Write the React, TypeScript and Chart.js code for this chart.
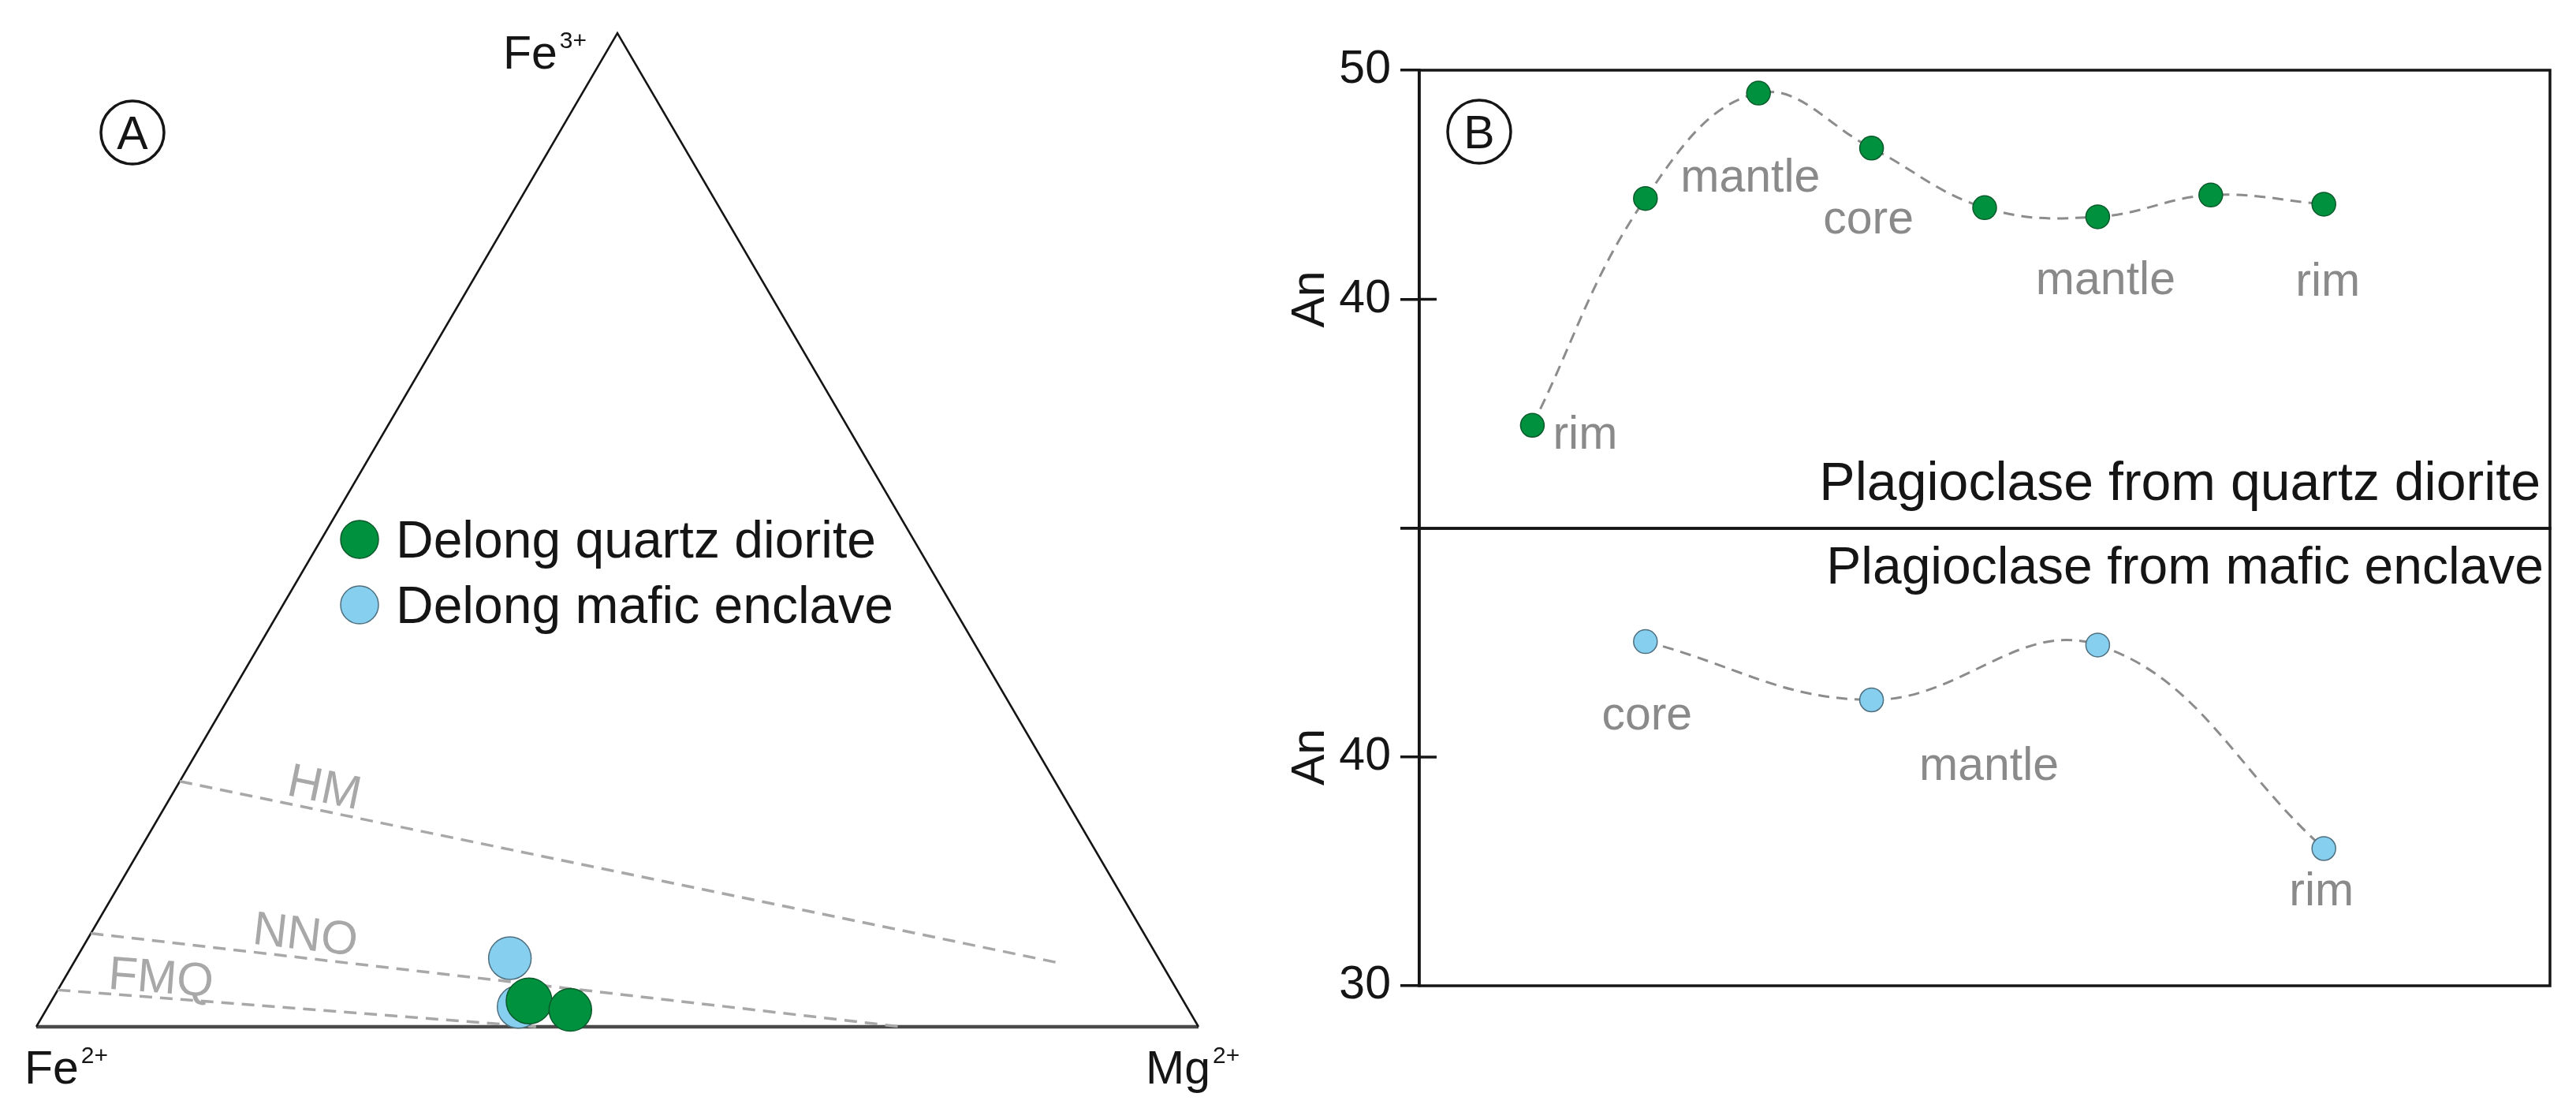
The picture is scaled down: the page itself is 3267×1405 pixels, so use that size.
import React, { useEffect, useRef } from 'react';
import { Chart, registerables } from 'chart.js';

Chart.register(...registerables);

const FONT = '"Liberation Sans", Arial, Helvetica, sans-serif';

// ---------------- Panel A data: ternary Fe2+ - Fe3+ - Mg2+ ----------------
const vertexElements = ['Fe', 'Fe', 'Mg'];
const vertexCharges = ['2+', '3+', '2+'];
const seriesNames = ['Delong quartz diorite', 'Delong mafic enclave'];
const dioriteFe2 = [0.563, 0.532];
const dioriteFe3 = [0.026, 0.017];
const dioriteMg = [0.411, 0.451];
const enclaveFe2 = [0.558, 0.575];
const enclaveFe3 = [0.069, 0.02];
const enclaveMg = [0.373, 0.405];
const bufferNames = ['HM', 'NNO', 'FMQ'];
const bufferStartFe2 = [0.753, 0.906, 0.963];
const bufferStartFe3 = [0.247, 0.094, 0.037];
const bufferStartMg = [0, 0, 0];
const bufferEndFe2 = [0.087, 0.256, 0.57];
const bufferEndFe3 = [0.064, 0, 0];
const bufferEndMg = [0.849, 0.744, 0.43];

// ---------------- Panel B data: An profiles ----------------
const quartzDioriteZone = [1, 2, 3, 4, 5, 6, 7, 8];
const quartzDioriteAn = [34.5, 44.4, 49.0, 46.6, 44.0, 43.6, 44.55, 44.15];
const quartzDioriteLabels = ['rim', 'mantle', '', 'core', '', 'mantle', '', 'rim'];
const maficEnclaveZone = [2, 4, 6, 8];
const maficEnclaveAn = [45.05, 42.5, 44.9, 36.0];
const maficEnclaveLabels = ['core', 'mantle', '', 'rim'];
const panelTitles = ['Plagioclase from quartz diorite', 'Plagioclase from mafic enclave'];
const anTickValues = [30, 40, 50];
const anAxisTitle = 'An';
const panelLetters = ['A', 'B'];

// ---------------- styles / layout ----------------
const GREEN = '#00913f';
const GREEN_EDGE = '#0b5a2b';
const BLUE = '#86cfee';
const BLUE_EDGE = '#4f6f7f';
const INK = '#151515';
const LABEL_GRAY = '#8a8a8a';
const BUFFER_GRAY = '#a8a8a8';

const A_LAYOUT = {
  canvasW: 1600,
  canvasH: 1405,
  padding: { left: 46, right: 80, top: 42, bottom: 103 },
  vertexOffsets: [[-15, 72], [-145, 45], [-67, 72]],
  bufferLabelT: [0.159, 0.2615, 0.2127],
  bufferLabelLift: [29, 29, 25],
  legendMarkerX: 456,
  legendY: [684, 767],
  legendTextX: 502,
  legendR: 24,
  letter: { x: 168, y: 168, r: 40 },
};

const B_TOP = {
  top: 0,
  height: 760,
  padding: { left: 0, right: 33, top: 89, bottom: 90 },
  hidden: [30],
  labelOffsets: [[67, 30], [133, -9], null, [-4, 108], null, [10, 98], null, [5, 116]],
  titleFont: 68,
  titleRight: 12,
};
const B_BOT = {
  top: 600,
  height: 805,
  padding: { left: 0, right: 33, top: 70, bottom: 155 },
  hidden: [50],
  labelOffsets: [[2, 111], [149, 101], null, [-3, 72]],
  titleFont: 66,
  titleRight: 8,
};

function toXY(fe2: number, fe3: number, mg: number) {
  const s = fe2 + fe3 + mg;
  return { x: (mg + fe3 / 2) / s, y: fe3 / s };
}

function drawLetterCircle(ctx: CanvasRenderingContext2D, letter: string, cx: number, cy: number, r: number) {
  ctx.save();
  ctx.beginPath();
  ctx.arc(cx, cy, r, 0, Math.PI * 2);
  ctx.lineWidth = 3.5;
  ctx.strokeStyle = INK;
  ctx.stroke();
  ctx.font = `59px ${FONT}`;
  ctx.fillStyle = INK;
  ctx.textAlign = 'center';
  ctx.textBaseline = 'alphabetic';
  ctx.fillText(letter, cx, cy + 21);
  ctx.restore();
}

const ternaryDecor = {
  id: 'ternaryDecor',
  afterDraw(chart: any) {
    const { ctx } = chart;
    const xs = chart.scales.x;
    const ys = chart.scales.y;
    const px = (p: { x: number; y: number }) => ({ x: xs.getPixelForValue(p.x), y: ys.getPixelForValue(p.y) });
    ctx.save();
    // vertex labels with superscript charges
    const verts = [toXY(1, 0, 0), toXY(0, 1, 0), toXY(0, 0, 1)].map(px);
    vertexElements.forEach((el, i) => {
      const v = verts[i];
      const o = A_LAYOUT.vertexOffsets[i];
      const bx = v.x + o[0];
      const by = v.y + o[1];
      ctx.fillStyle = INK;
      ctx.textAlign = 'left';
      ctx.textBaseline = 'alphabetic';
      ctx.font = `59px ${FONT}`;
      ctx.fillText(el, bx, by);
      const w = ctx.measureText(el).width;
      ctx.font = `30px ${FONT}`;
      ctx.fillText(vertexCharges[i], bx + w + 3, by - 26);
    });
    // buffer labels
    bufferNames.forEach((name, i) => {
      const p1 = px(toXY(bufferStartFe2[i], bufferStartFe3[i], bufferStartMg[i]));
      const p2 = px(toXY(bufferEndFe2[i], bufferEndFe3[i], bufferEndMg[i]));
      const ang = Math.atan2(p2.y - p1.y, p2.x - p1.x);
      const t = A_LAYOUT.bufferLabelT[i];
      const lift = A_LAYOUT.bufferLabelLift[i];
      const cx = p1.x + (p2.x - p1.x) * t + Math.sin(ang) * lift;
      const cy = p1.y + (p2.y - p1.y) * t - Math.cos(ang) * lift;
      ctx.save();
      ctx.translate(cx, cy);
      ctx.rotate(ang);
      ctx.font = `60px ${FONT}`;
      ctx.fillStyle = BUFFER_GRAY;
      ctx.textAlign = 'center';
      ctx.textBaseline = 'middle';
      ctx.fillText(name, 0, 2);
      ctx.restore();
    });
    // legend
    const colors = [[GREEN, GREEN_EDGE], [BLUE, BLUE_EDGE]];
    seriesNames.forEach((name, i) => {
      const y = A_LAYOUT.legendY[i];
      ctx.beginPath();
      ctx.arc(A_LAYOUT.legendMarkerX, y, A_LAYOUT.legendR, 0, Math.PI * 2);
      ctx.fillStyle = colors[i][0];
      ctx.fill();
      ctx.lineWidth = 1.5;
      ctx.strokeStyle = colors[i][1];
      ctx.stroke();
      ctx.font = `66px ${FONT}`;
      ctx.fillStyle = INK;
      ctx.textAlign = 'left';
      ctx.textBaseline = 'alphabetic';
      ctx.fillText(name, A_LAYOUT.legendTextX, y + 23);
    });
    ctx.restore();
    drawLetterCircle(ctx, panelLetters[0], A_LAYOUT.letter.x, A_LAYOUT.letter.y, A_LAYOUT.letter.r);
  },
};

function makeTernary(canvas: HTMLCanvasElement) {
  const V = [toXY(1, 0, 0), toXY(0, 1, 0), toXY(0, 0, 1)];
  const bufferSets = bufferNames.map((name, i) => ({
    label: name,
    data: [
      toXY(bufferStartFe2[i], bufferStartFe3[i], bufferStartMg[i]),
      toXY(bufferEndFe2[i], bufferEndFe3[i], bufferEndMg[i]),
    ],
    showLine: true,
    pointRadius: 0,
    borderColor: BUFFER_GRAY,
    borderWidth: 3.5,
    borderDash: [16, 10],
    clip: false,
    order: 4,
  }));
  return new Chart(canvas, {
    type: 'scatter',
    data: {
      datasets: [
        {
          label: seriesNames[0],
          data: dioriteFe2.map((f, i) => toXY(f, dioriteFe3[i], dioriteMg[i])),
          backgroundColor: GREEN,
          borderColor: GREEN_EDGE,
          pointRadius: [29, 27],
          pointBorderWidth: 1.5,
          clip: false,
          order: 0,
        },
        {
          label: seriesNames[1],
          data: enclaveFe2.map((f, i) => toXY(f, enclaveFe3[i], enclaveMg[i])),
          backgroundColor: BLUE,
          borderColor: BLUE_EDGE,
          pointRadius: [27, 27],
          pointBorderWidth: 1.5,
          clip: false,
          order: 1,
        },
        ...bufferSets,
        {
          label: 'sides',
          data: [V[0], V[1], V[2]],
          showLine: true,
          pointRadius: 0,
          borderColor: INK,
          borderWidth: 2.5,
          clip: false,
          order: 5,
        },
        {
          label: 'base',
          data: [V[0], V[2]],
          showLine: true,
          pointRadius: 0,
          borderColor: '#4a4a4a',
          borderWidth: 4.5,
          clip: false,
          order: 5,
        },
      ] as any,
    },
    options: {
      responsive: false,
      animation: false,
      devicePixelRatio: 1,
      events: [],
      layout: { padding: A_LAYOUT.padding },
      scales: {
        x: { type: 'linear', min: 0, max: 1, display: false },
        y: { type: 'linear', min: 0, max: 1, display: false },
      },
      plugins: { legend: { display: false }, tooltip: { enabled: false } },
    } as any,
    plugins: [ternaryDecor],
  });
}

function makeProfile(
  canvas: HTMLCanvasElement,
  lay: typeof B_TOP,
  zones: number[],
  values: number[],
  names: string[],
  fill: string,
  edge: string,
  panelIndex: number
) {
  const decor = {
    id: 'profileDecor' + panelIndex,
    afterDraw(chart: any) {
      const { ctx, chartArea: ca } = chart;
      const xs = chart.scales.x;
      const ys = chart.scales.y;
      ctx.save();
      ctx.strokeStyle = INK;
      ctx.lineWidth = 3.5;
      ctx.strokeRect(ca.left, ca.top, ca.right - ca.left, ca.bottom - ca.top);
      // inward half of the crossing tick at 40
      const y40 = ys.getPixelForValue(40);
      ctx.beginPath();
      ctx.moveTo(ca.left, y40);
      ctx.lineTo(ca.left + 22, y40);
      ctx.stroke();
      // zone labels
      ctx.font = `59px ${FONT}`;
      ctx.fillStyle = LABEL_GRAY;
      ctx.textAlign = 'center';
      ctx.textBaseline = 'alphabetic';
      names.forEach((n, i) => {
        const off = lay.labelOffsets[i];
        if (!n || !off) return;
        const x = xs.getPixelForValue(zones[i]);
        const y = ys.getPixelForValue(values[i]);
        ctx.fillText(n, x + off[0], y + off[1]);
      });
      // panel title
      ctx.font = `${lay.titleFont}px ${FONT}`;
      ctx.fillStyle = INK;
      ctx.textAlign = 'right';
      if (panelIndex === 0) {
        ctx.fillText(panelTitles[0], ca.right - lay.titleRight, ca.bottom - 36);
      } else {
        ctx.fillText(panelTitles[1], ca.right - lay.titleRight, ca.top + 70);
      }
      ctx.restore();
      if (panelIndex === 0) drawLetterCircle(ctx, panelLetters[1], ca.left + 76, ca.top + 78, 40);
    },
  };
  return new Chart(canvas, {
    type: 'line',
    data: {
      datasets: [
        {
          label: panelTitles[panelIndex],
          data: zones.map((z, i) => ({ x: z, y: values[i] })),
          borderColor: '#8c8c8c',
          borderWidth: 3,
          borderDash: [14, 9],
          tension: 0.4,
          pointRadius: 15,
          pointBackgroundColor: fill,
          pointBorderColor: edge,
          pointBorderWidth: 1.5,
          clip: false,
        },
      ],
    },
    options: {
      responsive: false,
      animation: false,
      devicePixelRatio: 1,
      events: [],
      layout: { padding: lay.padding },
      scales: {
        x: { type: 'linear', min: 0, max: 10, display: false },
        y: {
          type: 'linear',
          min: 30,
          max: 50,
          afterBuildTicks: (scale: any) => {
            scale.ticks = anTickValues.map((v) => ({ value: v }));
          },
          afterFit: (scale: any) => {
            scale.width = 200;
          },
          ticks: {
            font: { family: FONT, size: 59 },
            color: INK,
            padding: 12,
            callback: (v: any) => (lay.hidden.includes(Number(v)) ? '' : String(v)),
          },
          grid: { drawOnChartArea: false, drawTicks: true, tickLength: 24, color: INK, lineWidth: 3.5 },
          border: { display: true, color: INK, width: 3.5 },
          title: {
            display: true,
            text: anAxisTitle,
            font: { family: FONT, size: 59 },
            color: INK,
            padding: { top: 27, bottom: 0 },
          },
        },
      },
      plugins: { legend: { display: false }, tooltip: { enabled: false } },
    } as any,
    plugins: [decor],
  });
}

export default function App() {
  const aRef = useRef<HTMLCanvasElement>(null);
  const topRef = useRef<HTMLCanvasElement>(null);
  const botRef = useRef<HTMLCanvasElement>(null);

  useEffect(() => {
    const charts = [
      makeTernary(aRef.current!),
      makeProfile(topRef.current!, B_TOP, quartzDioriteZone, quartzDioriteAn, quartzDioriteLabels, GREEN, GREEN_EDGE, 0),
      makeProfile(botRef.current!, B_BOT, maficEnclaveZone, maficEnclaveAn, maficEnclaveLabels, BLUE, BLUE_EDGE, 1),
    ];
    return () => charts.forEach((c) => c.destroy());
  }, []);

  return (
    <div style={{ position: 'fixed', left: 0, top: 0, width: 3267, height: 1405, background: '#ffffff', overflow: 'hidden' }}>
      <canvas
        ref={aRef}
        width={A_LAYOUT.canvasW}
        height={A_LAYOUT.canvasH}
        style={{ position: 'absolute', left: 0, top: 0, width: A_LAYOUT.canvasW, height: A_LAYOUT.canvasH }}
      />
      <canvas
        ref={topRef}
        width={1667}
        height={B_TOP.height}
        style={{ position: 'absolute', left: 1600, top: B_TOP.top, width: 1667, height: B_TOP.height }}
      />
      <canvas
        ref={botRef}
        width={1667}
        height={B_BOT.height}
        style={{ position: 'absolute', left: 1600, top: B_BOT.top, width: 1667, height: B_BOT.height }}
      />
    </div>
  );
}
